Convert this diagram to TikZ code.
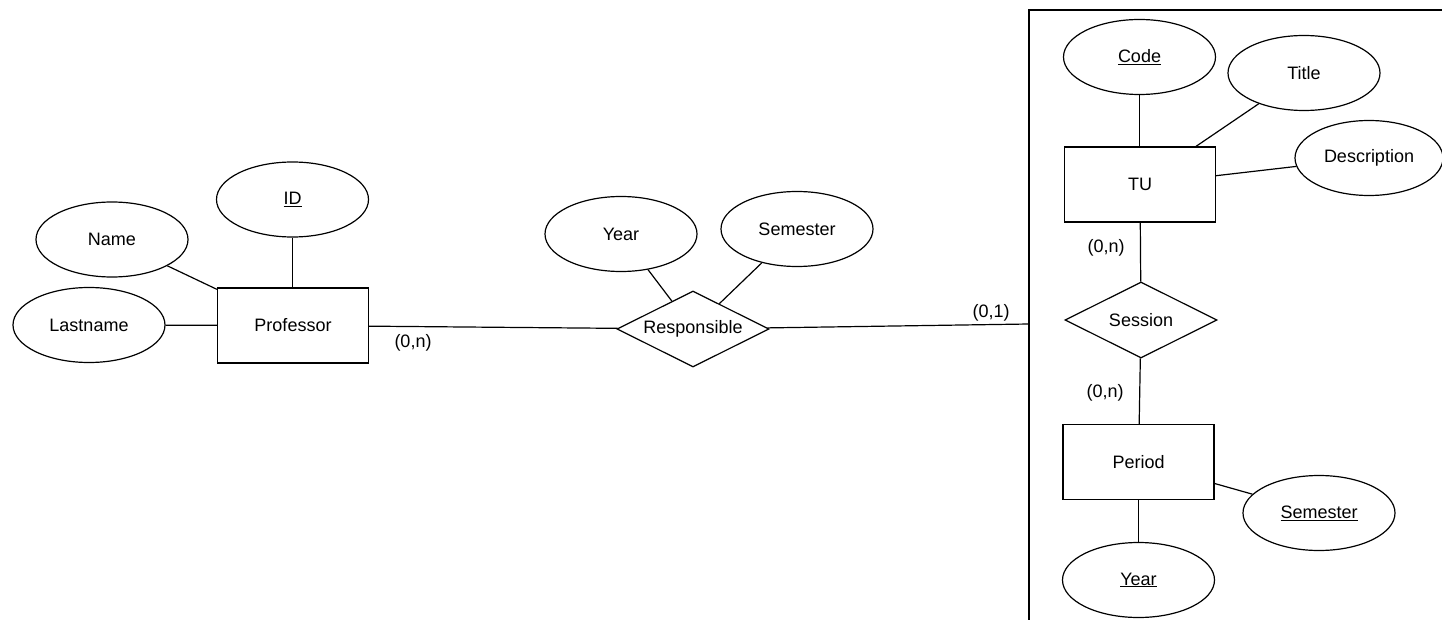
\documentclass[tikz,border=0pt]{standalone}
\usepackage{fontspec}
\setmainfont{Liberation Sans}
\usetikzlibrary{shapes.geometric}
\begin{document}
\begin{tikzpicture}[x=1pt,y=-1pt,
  every node/.style={font=\fontsize{18}{21}\selectfont},
  attr/.style={draw,ellipse,minimum width=152pt,minimum height=75pt,inner sep=0pt,line width=1.2pt},
  ent/.style={draw,rectangle,minimum width=151pt,minimum height=75pt,inner sep=0pt,line width=1.3pt},
  rel/.style={draw,diamond,aspect=2,minimum width=152pt,minimum height=76pt,inner sep=0pt,line width=1.2pt},
  card/.style={inner sep=0pt},
  conn/.style={line width=1.2pt}]
\useasboundingbox (0,0) rectangle (1442,620);
% frame
\coordinate (fb) at (1029,620);
\coordinate (ft) at (1029,10);
\coordinate (fr) at (1442,10);
\draw[line width=1.5pt] (fb) -- (ft) -- (fr);
\coordinate (fend) at (1029,324);
% Professor side
\node[ent] (prof) at (293,325.5) {Professor};
\node[attr] (name) at (112,239.5) {Name};
\node[attr] (id) at (292.5,199.5) {\underline{ID}};
\node[attr] (lname) at (89,325) {Lastname};
\draw[conn] (name) -- (prof);
\draw[conn] (id.south) -- (id.south |- prof.north);
\draw[conn] (lname) -- (prof);
% Responsible
\node[rel] (resp) at (693,329) {Responsible};
\node[attr] (ryear) at (621,234) {Year};
\node[attr] (rsem) at (797,229) {Semester};
\draw[conn] (ryear) -- (resp);
\draw[conn] (rsem) -- (resp);
\draw[conn] (prof) -- (resp);
\draw[conn] (resp) -- (fend);
\node[card] (c1) at (413,343) {(0,n)};
\node[card] (c2) at (991,313) {(0,1)};
% TU side
\node[ent] (tu) at (1140,184.5) {TU};
\node[attr] (code) at (1139.5,57) {\underline{Code}};
\node[attr] (title) at (1304,73) {Title};
\node[attr,minimum width=148pt] (desc) at (1369,158) {Description};
\draw[conn] (code.south) -- (code.south |- tu.north);
\draw[conn] (title) -- (tu);
\draw[conn] (desc) -- (tu);
\node[rel] (sess) at (1141,320) {Session};
\draw[conn] (tu) -- (sess);
\node[card] (c3) at (1106,248) {(0,n)};
\node[ent] (per) at (1138.5,462) {Period};
\draw[conn] (sess) -- (per);
\node[card] (c4) at (1105,393) {(0,n)};
\node[attr] (psem) at (1319,513) {\underline{Semester}};
\node[attr] (pyear) at (1138.5,580) {\underline{Year}};
\draw[conn] (per) -- (psem);
\draw[conn] (per.south) -- (per.south |- pyear.north);
\end{tikzpicture}
\end{document}
